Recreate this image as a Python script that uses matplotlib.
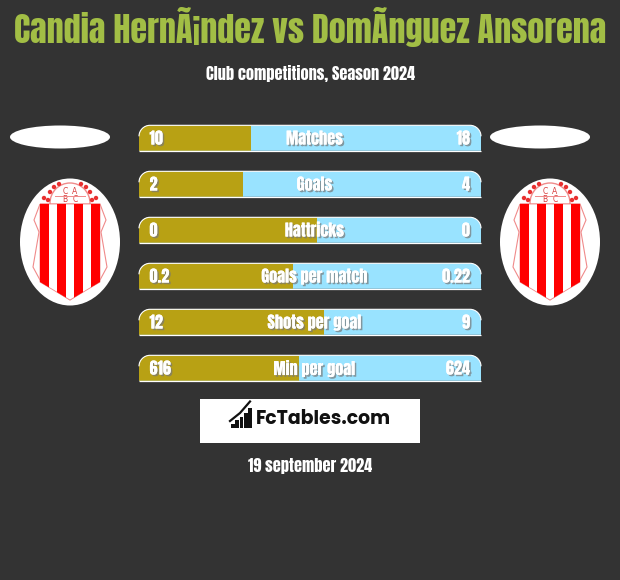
import matplotlib
matplotlib.use("Agg")
import matplotlib.pyplot as plt
import matplotlib.patheffects as pe
from matplotlib.patches import Ellipse, PathPatch, Rectangle, Circle
from matplotlib.path import Path

title = "Candia HernÃ¡ndez vs DomÃnguez Ansorena"
subtitle = "Club competitions, Season 2024"
date_text = "19 september 2024"
brand = "FcTables.com"
metrics = ["Matches", "Goals", "Hattricks", "Goals per match", "Shots per goal", "Min per goal"]
left_values = ["10", "2", "0", "0.2", "12", "616"]
right_values = ["18", "4", "0", "0.22", "9", "624"]
left_share = [32.7, 30.4, 52.0, 45.0, 54.0, 46.8]
logo_bars = [4, 8, 11, 15, 20]

BG = "#333333"; GOLD = "#B8A114"; BLUE = "#99E3FF"; GREEN = "#A2BE45"; RED = "#FF0000"; PINK = "#F08A8A"
COND = ["Anton", "DejaVu Sans"]

fig = plt.figure(figsize=(6.2, 5.8), dpi=100, facecolor=BG)
ax = fig.add_axes([0, 0, 1, 1])
ax.set_xlim(0, 620); ax.set_ylim(580, 0); ax.axis("off")

shadow = [pe.withSimplePatchShadow(offset=(1.2, -1.2), shadow_rgbFace="#777777", alpha=0.7), pe.Normal()]

def label(x, y, s, size, color="white", ha="center", fx=None):
    return ax.text(x, y, s, fontsize=size, color=color, ha=ha, va="center", family=COND,
                   path_effects=fx)

label(310, 27, title, 24.6, GREEN)
label(310, 73.5, subtitle, 11.7)
label(310, 465.5, date_text, 11.7)

BAR_X, BAR_W, BAR_H, BAR_TOP, BAR_STEP, RAD = 139, 342, 25.5, 125.3, 46, 11

def bar_shape(x, y, w, h, r):
    k = 0.55 * r
    verts = [(x, y + h), (x, y + r), (x, y + r - k), (x + r - k, y), (x + r, y),
             (x + w - r, y), (x + w - r + k, y), (x + w, y + r - k), (x + w, y + r),
             (x + w, y + h), (x, y + h)]
    codes = [Path.MOVETO, Path.LINETO, Path.CURVE4, Path.CURVE4, Path.CURVE4, Path.LINETO,
             Path.CURVE4, Path.CURVE4, Path.CURVE4, Path.LINETO, Path.CLOSEPOLY]
    return Path(verts, codes)

for i, metric in enumerate(metrics):
    y = BAR_TOP + i * BAR_STEP
    shape = bar_shape(BAR_X, y, BAR_W, BAR_H, RAD)
    base = PathPatch(shape, fc=BLUE, ec="none", zorder=2)
    ax.add_patch(base)
    gold = Rectangle((BAR_X, y), BAR_W * left_share[i] / 100, BAR_H, fc=GOLD, ec="none", zorder=3)
    ax.add_patch(gold)
    gold.set_clip_path(base)
    edge_codes = shape.codes[1:9].copy()
    edge_codes[0] = Path.MOVETO
    top_edge = Path(shape.vertices[1:9], edge_codes)
    ax.add_patch(PathPatch(top_edge, fc="none", ec="white", lw=0.8, zorder=4))
    ax.plot([BAR_X, BAR_X + BAR_W], [y + BAR_H, y + BAR_H], color="white", lw=0.9, zorder=4,
            solid_capstyle="butt")
    ym = y + BAR_H / 2 + 0.5
    label(BAR_X + 10.5, ym, left_values[i], 11.7, ha="left", fx=shadow).set_zorder(5)
    label(BAR_X + BAR_W - 11, ym, right_values[i], 11.7, ha="right", fx=shadow).set_zorder(5)
    label(BAR_X + BAR_W / 2 + 4.5, ym, metric, 11.7, fx=shadow).set_zorder(5)

def crest(cx, cy):
    ax.add_patch(Ellipse((cx, cy), 100, 127, fc="white", ec="none", zorder=2))
    ax.add_patch(Ellipse((cx, cy - 39), 40, 40, fc="white", ec=PINK, lw=1, zorder=3))
    outer = Path([(cx - 30, cy - 38), (cx + 30, cy - 38), (cx + 36, cy - 22), (cx + 31, cy - 10),
                  (cx + 37, cy + 25), (cx + 30, cy + 38), (cx, cy + 58), (cx - 30, cy + 38),
                  (cx - 37, cy + 25), (cx - 31, cy - 10), (cx - 36, cy - 22), (cx - 30, cy - 38)])
    ax.add_patch(PathPatch(outer, fc="white", ec=PINK, lw=0.8, zorder=3))
    shield = Path([(cx - 30, cy - 38), (cx + 30, cy - 38), (cx + 30, cy + 40), (cx, cy + 58),
                   (cx - 30, cy + 40), (cx - 30, cy - 38)])
    clip = PathPatch(shield, fc="white", ec=PINK, lw=0.6, zorder=4)
    ax.add_patch(clip)
    for off in (-30, -13, 4, 21):
        r = Rectangle((cx + off, cy - 38), 8.7, 100, fc=RED, ec="none", zorder=5)
        ax.add_patch(r)
        r.set_clip_path(clip)
    for dx, dy in [(-20, -50), (-22, -42), (-26, -44), (-11, -58), (-16, -55), (20, -50), (22, -42), (26, -44), (11, -58), (16, -55)]:
        ax.add_patch(Circle((cx + dx, cy + dy), 2.2, fc="#E83030", ec="none", zorder=5))
    for s, dx, dy in [("C", -5, -51), ("A", 5, -51), ("B", -5, -42), ("C", 5, -42)]:
        ax.text(cx + dx, cy + dy, s, fontsize=5.5, color="#D84040", ha="center", va="center", zorder=6)
    ax.plot([cx - 15, cx + 15], [cy - 46.5, cy - 46.5], color=PINK, lw=0.7, zorder=6)

for cx in (70, 550):
    crest(cx, 242)
    ax.add_patch(Ellipse((cx - 10, 137), 100, 23, fc="white", ec="none", zorder=2))

ax.add_patch(Rectangle((200, 399), 220, 44, fc="white", ec="none", zorder=2))
for j, h in enumerate(logo_bars):
    ax.add_patch(Rectangle((231 + j * 4.3, 427.5 - h), 3.7, h, fc="#111111", ec="none", zorder=3))
ax.plot([230, 240, 250], [421, 413, 401.5], color="#111111", lw=1.6, zorder=3)
ax.text(255.5, 420, brand, fontsize=13.6, color="#111111", family=["Poppins", "Open Sans", "DejaVu Sans"],
        fontweight="bold", ha="left", va="center", zorder=3)

fig.savefig("out.png", dpi=100, facecolor=BG)
